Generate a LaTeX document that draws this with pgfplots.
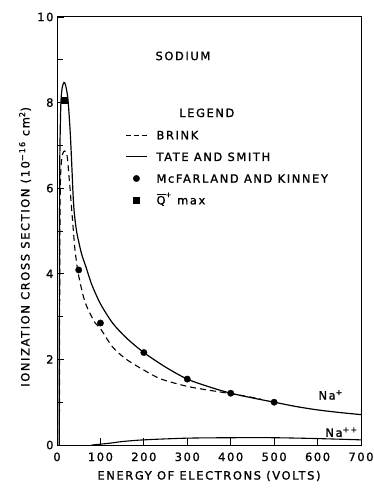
\documentclass[border=0pt]{standalone}
\usepackage{pgfplots}
\pgfplotsset{compat=1.18}
\usepackage{fontspec}
\setmainfont[LetterSpace=14, FakeBold=1.2]{DejaVu Sans}
\newcommand{\lf}{\fontsize{11.5}{13}\selectfont}
\pgfplotsset{
  lineleg/.style={legend image code/.code={\draw[##1] (0bp,0bp) -- (21bp,0bp);}},
  dashleg/.style={legend image code/.code={\draw[##1, dash pattern=on 5bp off 3bp] (0bp,0bp) -- (21bp,0bp);}},
  markleg/.style={legend image code/.code={\draw[##1] plot coordinates {(10.5bp,0bp)};}},
}
\begin{document}
\begin{tikzpicture}
\path[use as bounding box] (-57bp,-46bp) rectangle (317bp,445bp);
\begin{axis}[
  scale only axis, width=304bp, height=428bp,
  at={(0,0)}, anchor=south west,
  xmin=0, xmax=700, ymin=0, ymax=10,
  xtick={0,100,...,700}, ytick={0,2,...,10}, minor ytick={1,3,5,7,9},
  tick align=inside, xtick pos=left, ytick pos=left,
  major tick length=7bp, minor tick length=6bp,
  tick style={black, line width=0.8pt},
  axis line style={line width=1pt},
  /pgf/number format/assume math mode=true,
  ticklabel style={font=\lf},
  xticklabel style={yshift=-4bp},
  label style={font=\lf},
  xlabel={ENERGY OF ELECTRONS (VOLTS)},
  ylabel={IONIZATION CROSS SECTION (10\textsuperscript{−16} cm\textsuperscript{2})},
  xlabel style={at={(axis description cs:0.5,-0.0724)}, anchor=center},
  ylabel style={at={(axis description cs:-0.105,0.463)}, anchor=center},
  legend cell align=left,
  legend style={at={(axis cs:150,7.39)}, anchor=north west, draw=none, fill=none,
    font=\lf, row sep=13.3bp, column sep=9bp,
    nodes={inner sep=0pt, text height=8.4bp, text depth=0bp}},
]
% Brink (dashed)
\addplot[black, line width=1.1pt, dash pattern=on 6bp off 4bp, smooth, dashleg]
coordinates {
(5.5,0) (6,2.5) (6.5,4.3) (7,5.5) (8,6.2) (10,6.6) (13,6.8) (17,6.87) (21,6.85)
(24,6.7) (27,6.35) (30,6.0) (33,5.6) (37,5.1) (41,4.6) (46,4.2) (50,3.95)
(60,3.5) (70,3.2) (88,2.85) (100,2.72) (128,2.29) (160,2.0) (200,1.75)
(240,1.54) (300,1.37) (350,1.28) (400,1.2) (440,1.13) (470,1.07)
};
\addlegendentry{BRINK}
% Tate and Smith (solid)
\addplot[black, line width=1.2pt, smooth, lineleg]
coordinates {
(5,0) (5.5,3.5) (6.2,6.2) (7,7.1) (9,8.0) (12,8.35) (16,8.47) (19,8.43) (22,8.3)
(25,8.1) (28,7.7) (31,7.2) (34,6.55) (37,5.85) (40,5.4) (45,5.0) (50,4.75)
(57,4.45) (67,4.15) (80,3.75) (100,3.3) (128,2.85) (160,2.5) (200,2.16)
(250,1.82) (300,1.54) (350,1.36) (400,1.21) (450,1.1) (500,1.0) (550,0.9)
(600,0.82) (650,0.76) (700,0.71)
};
\addlegendentry{TATE AND SMITH}
% McFarland and Kinney
\addplot[black, only marks, mark=*, mark size=3.2pt, markleg]
coordinates {(50,4.09) (100,2.85) (200,2.16) (300,1.54) (400,1.21) (500,1.0)};
\addlegendentry{McFARLAND AND KINNEY}
% Q+ max
\addplot[black, only marks, mark=square*, mark size=2.8pt, markleg]
coordinates {(17,8.06)};
\addlegendentry{$\overline{\mbox{Q}}^{\mbox{\scriptsize +}}$ max}
% Na++
\addplot[black, line width=1.1pt, smooth, forget plot]
coordinates {
(80,0) (120,0.04) (150,0.08) (200,0.12) (300,0.16) (400,0.17) (500,0.17)
(600,0.15) (700,0.12)
};
\node[font=\lf] at (axis cs:290,9.09) {SODIUM};
\node[font=\lf] at (axis cs:345,7.76) {LEGEND};
\node[font=\lf, anchor=west] at (axis cs:594,1.17) {Na\textsuperscript{+}};
\node[font=\lf, anchor=west] at (axis cs:610,0.30) {Na\textsuperscript{++}};
\end{axis}
\end{tikzpicture}
\end{document}
